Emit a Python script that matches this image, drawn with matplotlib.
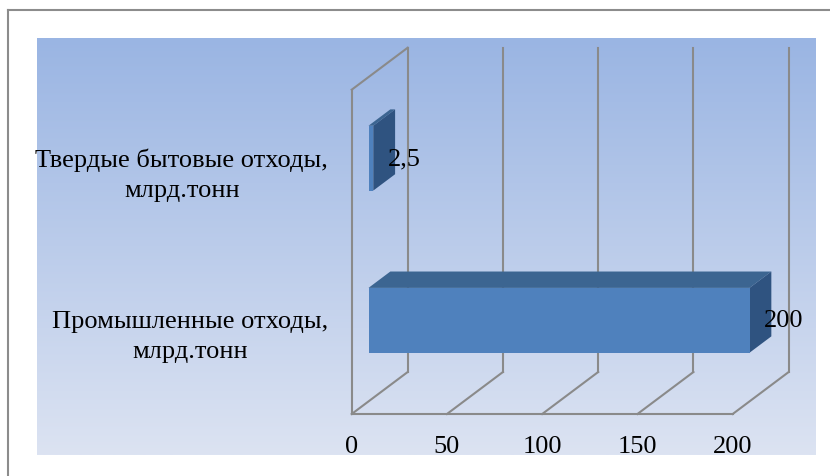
import numpy as np
import matplotlib
matplotlib.use("Agg")
import matplotlib.pyplot as plt
from matplotlib.patches import Polygon
from matplotlib.lines import Line2D
from matplotlib.colors import LinearSegmentedColormap

# ---- data ----
categories = ["Промышленные отходы,\nмлрд.тонн", "Твердые бытовые отходы,\nмлрд.тонн"]
values = [200, 2.5]
value_labels = ["200", "2,5"]
x_ticks = [0, 50, 100, 150, 200]
x_tick_labels = ["0", "50", "100", "150", "200"]

# ---- style ----
W, H = 830, 477
FONT = "Liberation Serif"
FS = 19
GRID = "#8a8a8a"
FRONT = "#4F81BD"
TOP = "#3C6591"
SIDE = "#2F5380"

fig = plt.figure(figsize=(W / 100, H / 100), dpi=100)
fig.patch.set_facecolor("white")

# gradient plot-area background
bg = fig.add_axes([37 / W, (H - 455.7) / H, (815 - 37) / W, (455.7 - 39) / H], zorder=0)
cmap = LinearSegmentedColormap.from_list("g", ["#9AB5E3", "#DCE3F2"])
grad = np.linspace(0, 1, 256).reshape(-1, 1)
bg.imshow(grad, aspect="auto", cmap=cmap, extent=[0, 1, 0, 1], origin="upper")
bg.set_axis_off()

# outer chart border (left and top)
fig.add_artist(Line2D([7.5 / W, 7.5 / W], [0, (H - 11) / H], color="#8c8c8c", lw=1.5))
fig.add_artist(Line2D([7.5 / W, 1.0], [(H - 11) / H, (H - 11) / H], color="#8c8c8c", lw=1.5))

# main axes: front plane of the 3D box
x0px, x1px, ybot, ytop = 351.7, 732.7, 415.0, 90.7
ax = fig.add_axes([x0px / W, (H - ybot) / H, (x1px - x0px) / W, (ybot - ytop) / H], zorder=1)
ax.set_xlim(0, 200)
ax.set_ylim(-0.5, 1.5)
ax.set_axis_off()
ax.patch.set_visible(False)

# depth vector in data units
px_per_x = (x1px - x0px) / 200
px_per_y = (ybot - ytop) / 2
DX = 56 / px_per_x
DY = 42 / px_per_y

def P(v, c, d):
    return (v + d * DX, c + d * DY)

ylo, yhi = -0.5, 1.5
xmax = x_ticks[-1]

def seg(a, b, **kw):
    ax.add_line(Line2D([a[0], b[0]], [a[1], b[1]], color=GRID, lw=1.5,
                       clip_on=False, zorder=2, **kw))

for t in x_ticks:
    seg(P(t, ylo, 1), P(t, yhi, 1))     # back wall gridline
    seg(P(t, ylo, 0), P(t, ylo, 1))     # floor line
seg(P(0, ylo, 0), P(xmax, ylo, 0))      # front floor edge
seg(P(0, ylo, 0), P(0, yhi, 0))         # left wall front edge
seg(P(0, yhi, 0), P(0, yhi, 1))         # left wall top edge

# bars
half = 0.2
d0, d1 = 0.3, 0.69
for i, (v, lab) in enumerate(zip(values, value_labels)):
    c0, c1 = i - half, i + half
    front = [P(0, c0, d0), P(v, c0, d0), P(v, c1, d0), P(0, c1, d0)]
    top = [P(0, c1, d0), P(v, c1, d0), P(v, c1, d1), P(0, c1, d1)]
    side = [P(v, c0, d0), P(v, c0, d1), P(v, c1, d1), P(v, c1, d0)]
    for poly, col in ((top, TOP), (side, SIDE), (front, FRONT)):
        ax.add_patch(Polygon(poly, closed=True, facecolor=col, edgecolor="none",
                             clip_on=False, zorder=3))
    lx, ly = P(v, i, d0)
    ax.text(lx + 7.5, ly, lab, ha="left", va="center", fontsize=FS,
            family=FONT, zorder=5, clip_on=False)

# category labels
for i, cat in enumerate(categories):
    ax.text(-12.4, i - 0.02, cat, ha="right", va="center", multialignment="center",
            fontsize=FS, family=FONT, linespacing=1.45, zorder=5, clip_on=False)

# value axis tick labels
for t, lab in zip(x_ticks, x_tick_labels):
    ax.text(t, ylo - 0.2, lab, ha="center", va="center", fontsize=FS,
            family=FONT, zorder=5, clip_on=False)

fig.savefig("out.png", dpi=100)
